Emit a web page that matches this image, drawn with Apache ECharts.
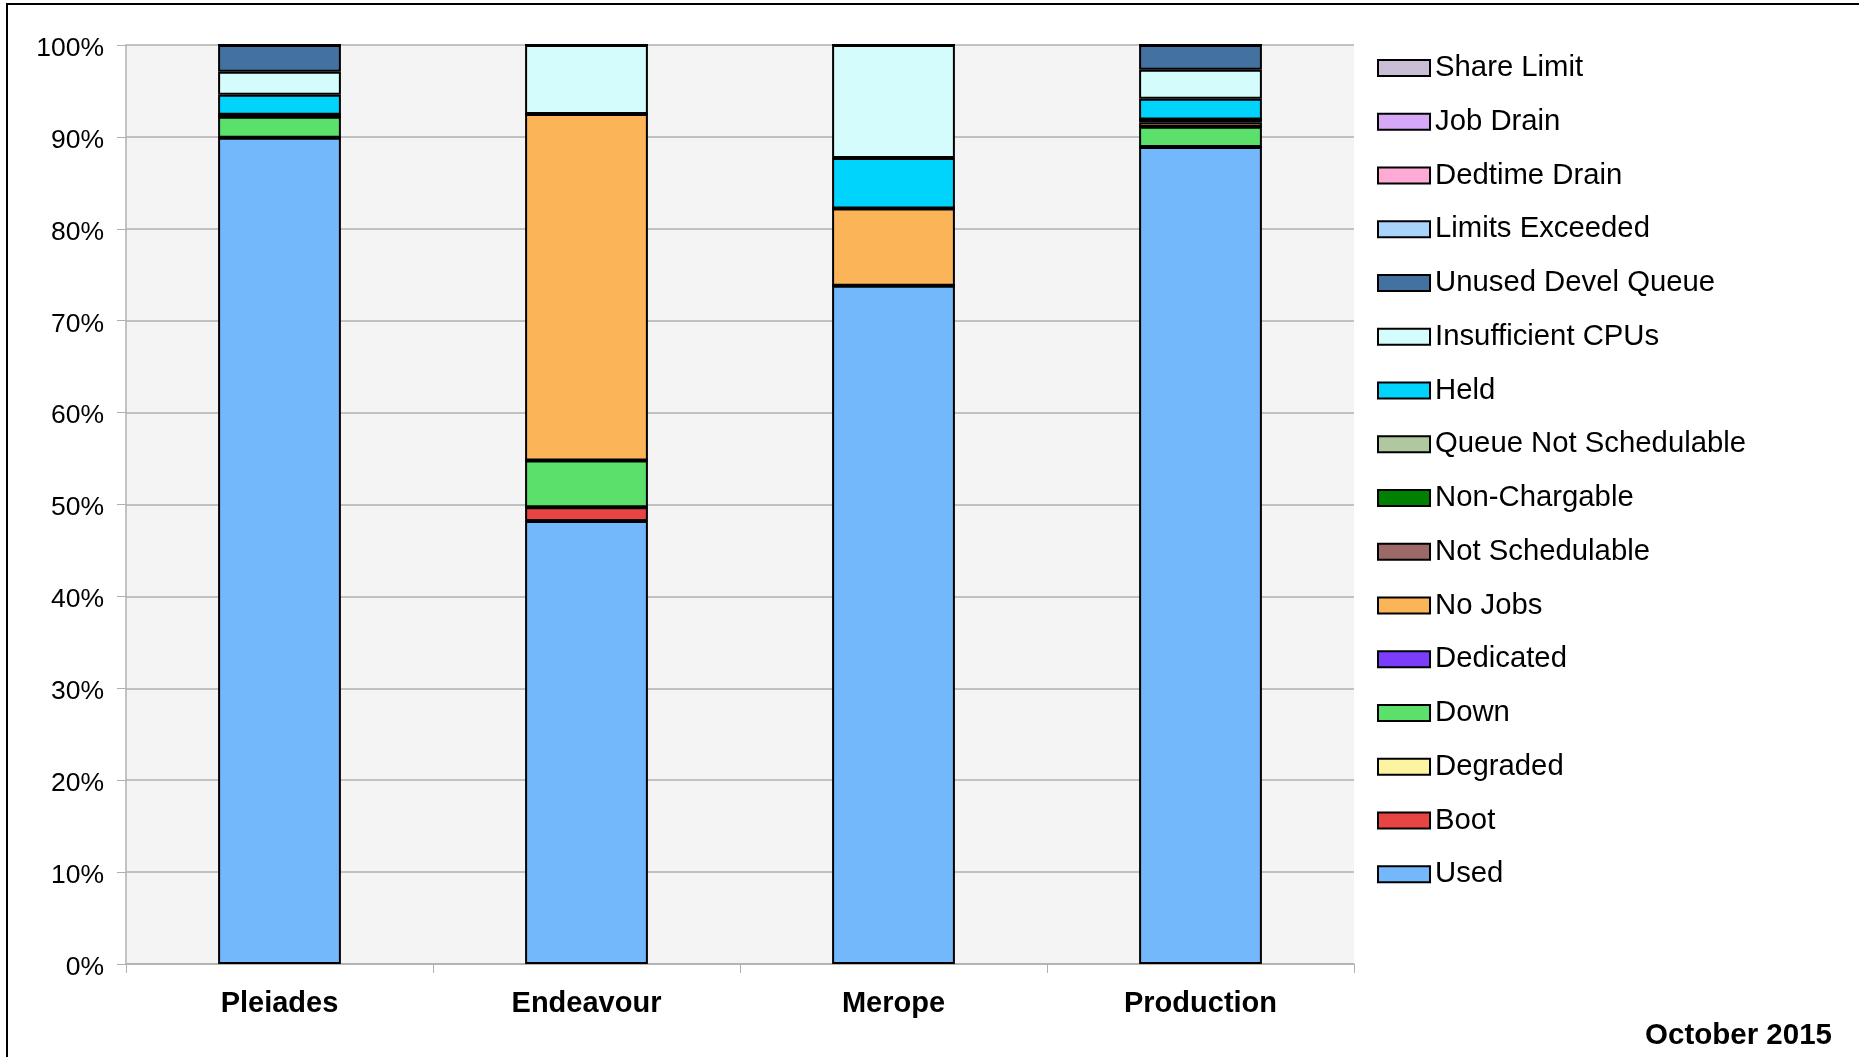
<!DOCTYPE html>
<html>
<head>
<meta charset="utf-8">
<script src="https://cdn.jsdelivr.net/npm/echarts@6/dist/echarts.min.js"></script>
<style>
html,body{margin:0;padding:0;background:#fff;}
#chart{width:1859px;height:1057px;}
</style>
</head>
<body>
<div id="chart"></div>
<script>
// Categories (x axis)
const categories = ['Pleiades', 'Endeavour', 'Merope', 'Production'];
// Y-axis tick settings
const yMin = 0, yMax = 100, yInterval = 10;

// Series values (percent), bottom of stack first
const used                = [89.9, 48.2, 73.8, 88.9];
const boot                = [0, 1.5, 0, 0];
const degraded            = [0, 0, 0, 0];
const down                = [2.3, 5.1, 0, 2.2];
const dedicated           = [0, 0, 0, 0];
const noJobs              = [0, 37.7, 8.4, 0.5];
const notSchedulable      = [0.2, 0, 0, 0.3];
const nonChargable        = [0, 0, 0, 0];
const queueNotSchedulable = [0, 0, 0, 0];
const held                = [2.2, 0, 5.5, 2.25];
const insufficientCPUs    = [2.5, 7.5, 12.3, 3.15];
const unusedDevelQueue    = [2.9, 0, 0, 2.7];
const limitsExceeded      = [0, 0, 0, 0];
const dedtimeDrain        = [0, 0, 0, 0];
const jobDrain            = [0, 0, 0, 0];
const shareLimit          = [0, 0, 0, 0];

const seriesNames = ['Used','Boot','Degraded','Down','Dedicated','No Jobs','Not Schedulable','Non-Chargable',
  'Queue Not Schedulable','Held','Insufficient CPUs','Unused Devel Queue','Limits Exceeded','Dedtime Drain','Job Drain','Share Limit'];
const seriesData = [used, boot, degraded, down, dedicated, noJobs, notSchedulable, nonChargable,
  queueNotSchedulable, held, insufficientCPUs, unusedDevelQueue, limitsExceeded, dedtimeDrain, jobDrain, shareLimit];
const seriesColors = ['#74b8fc','#e84444','#fcf4a0','#5ce06c','#7c3cfc','#fcb458','#9c6868','#008000',
  '#b0c8a0','#00d4fc','#d4fcfc','#4472a0','#a8d4fc','#ffaad4','#d6a8f8','#c8bfd6'];

const FONT = "'Liberation Sans', Arial, Helvetica, sans-serif";

const chart = echarts.init(document.getElementById('chart'), null, {renderer: 'canvas'});

const series = seriesNames.map((n, i) => ({
  name: n,
  type: 'bar',
  stack: 'total',
  barWidth: '40%',
  data: seriesData[i],
  itemStyle: {color: seriesColors[i], borderColor: '#000', borderWidth: 2},
  emphasis: {disabled: true}
}));

chart.setOption({
  animation: false,
  backgroundColor: '#fff',
  textStyle: {fontFamily: FONT},
  grid: {left: 126, right: 505, top: 45, bottom: 93, show: true, backgroundColor: '#f4f4f4', borderWidth: 0},
  legend: {
    orient: 'vertical',
    left: 1372,
    top: 48,
    data: seriesNames.slice().reverse(),
    itemWidth: 52,
    itemHeight: 16,
    itemGap: 23.75,
    icon: 'rect',
    textStyle: {fontFamily: FONT, fontSize: 29.3, color: '#000', lineHeight: 30},
    selectedMode: false
  },
  xAxis: {
    type: 'category',
    data: categories,
    axisLine: {lineStyle: {color: '#b0b0b0', width: 1.5}},
    axisTick: {show: true, length: 9, lineStyle: {color: '#b0b0b0'}},
    axisLabel: {fontFamily: FONT, fontSize: 29, fontWeight: 'bold', color: '#000', margin: 25},
    splitLine: {show: false}
  },
  yAxis: {
    type: 'value',
    min: yMin, max: yMax, interval: yInterval,
    axisLine: {show: true, lineStyle: {color: '#b0b0b0', width: 1.5}},
    axisTick: {show: true, length: 9, lineStyle: {color: '#b0b0b0'}},
    axisLabel: {fontFamily: FONT, fontSize: 26.5, color: '#000', margin: 22, verticalAlign: 'top', lineHeight: 7, formatter: '{value}%'},
    splitLine: {show: true, lineStyle: {color: '#b0b0b0', width: 1.5}}
  },
  graphic: [
    {type: 'rect', shape: {x: 7, y: 4, width: 1900, height: 1100},
     style: {fill: 'none', stroke: '#000', lineWidth: 2}, silent: true, z: 100},
    {type: 'text', right: 27, top: 1021,
     style: {text: 'October 2015', font: "bold 29.5px 'Liberation Sans', Arial, sans-serif", fill: '#000'}}
  ],
  series: series
});
</script>
</body>
</html>
